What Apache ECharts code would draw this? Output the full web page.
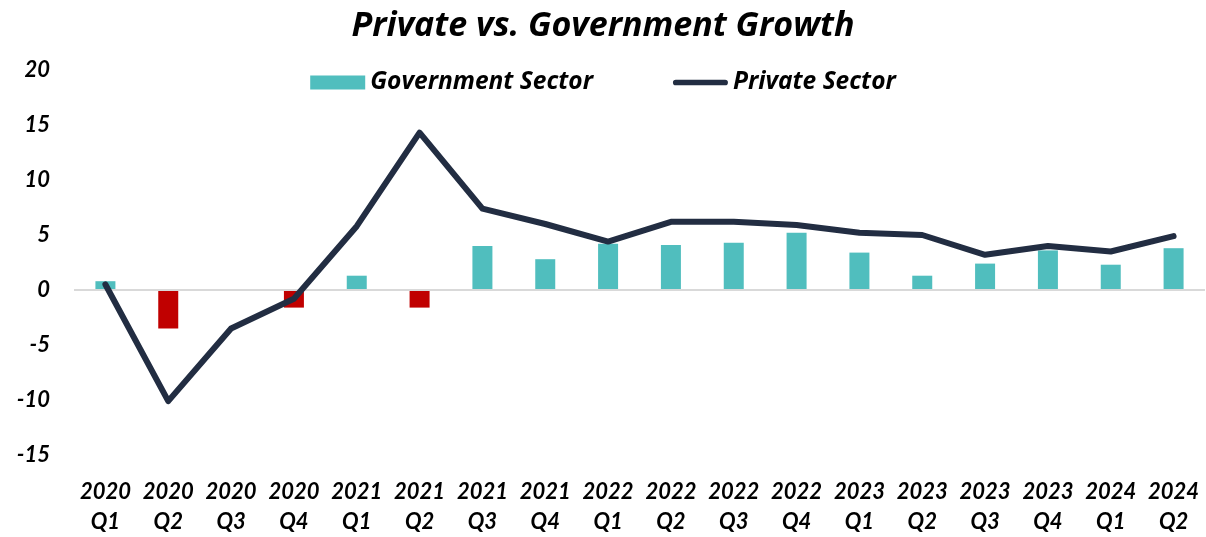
<!DOCTYPE html>
<html>
<head>
<meta charset="utf-8">
<script src="https://cdn.jsdelivr.net/npm/echarts@6/dist/echarts.min.js"></script>
<style>
  html, body { margin: 0; padding: 0; background: #fff; }
  #chart { width: 1206px; height: 537px; }
</style>
</head>
<body>
<div id="chart"></div>
<script>
const quarters = [
  '2020\nQ1', '2020\nQ2', '2020\nQ3', '2020\nQ4',
  '2021\nQ1', '2021\nQ2', '2021\nQ3', '2021\nQ4',
  '2022\nQ1', '2022\nQ2', '2022\nQ3', '2022\nQ4',
  '2023\nQ1', '2023\nQ2', '2023\nQ3', '2023\nQ4',
  '2024\nQ1', '2024\nQ2',
];
const government = [0.8, -3.5, 0, -1.6, 1.3, -1.6, 4.0, 2.8, 4.2, 4.1, 4.3, 5.2, 3.4, 1.3, 2.4, 3.6, 2.3, 3.8];
const privateSector = [0.5, -10.1, -3.5, -0.8, 5.8, 14.3, 7.4, 6.0, 4.4, 6.2, 6.2, 5.9, 5.2, 5.0, 3.2, 4.0, 3.5, 4.9];

const TEAL = '#50bebe';
const RED = '#c00000';
const NAVY = '#222d42';
const AXIS_FONT = 'Lato';
const TITLE_FONT = 'Open Sans';

const chart = echarts.init(document.getElementById('chart'));

// negative government values drawn in red
const govData = government.map((v) => (v < 0 ? { value: v, itemStyle: { color: RED } } : v));

// thin rounded bar for the line legend, with empty points so it keeps its height
const lineIcon = 'path://M0,0 L0.01,0 Z M3,4 L55,4 A3,3 0 0 1 55,10 L3,10 A3,3 0 0 1 3,4 Z M0,14 L0.01,14 Z';

const option = {
  animation: false,
  title: {
    text: 'Private vs. Government Growth',
    left: 'center',
    top: 4,
    textStyle: {
      fontFamily: TITLE_FONT,
      fontSize: 34,
      fontWeight: 'bold',
      fontStyle: 'italic',
      color: '#000',
    },
  },
  legend: {
    top: 65,
    left: 'center',
    itemGap: 80,
    itemWidth: 55,
    itemHeight: 14,
    textStyle: {
      fontFamily: TITLE_FONT,
      fontSize: 24.5,
      fontWeight: 'bold',
      fontStyle: 'italic',
      color: '#000',
    },
    data: [
      { name: 'Government Sector', icon: 'rect' },
      { name: 'Private Sector', icon: lineIcon, itemStyle: { color: NAVY } },
    ],
  },
  grid: {
    left: 74,
    right: 1,
    top: 70,
    bottom: 79,
  },
  xAxis: {
    type: 'category',
    data: quarters,
    axisLine: { show: false },
    axisTick: { show: false },
    axisLabel: {
      interval: 0,
      margin: 22,
      lineHeight: 30,
      fontFamily: AXIS_FONT,
      fontSize: 22,
      fontWeight: 'bold',
      fontStyle: 'italic',
      color: '#000',
    },
  },
  yAxis: {
    type: 'value',
    min: -15,
    max: 20,
    interval: 5,
    splitLine: { show: false },
    axisLine: { show: false },
    axisTick: { show: false },
    axisLabel: {
      margin: 24,
      fontFamily: AXIS_FONT,
      fontSize: 22,
      fontWeight: 'bold',
      fontStyle: 'italic',
      color: '#000',
    },
  },
  series: [
    {
      name: 'Government Sector',
      type: 'bar',
      barWidth: 20,
      itemStyle: { color: TEAL },
      data: govData,
      markLine: {
        silent: true,
        symbol: 'none',
        label: { show: false },
        lineStyle: { color: '#d9d9d9', width: 2, type: 'solid' },
        data: [{ yAxis: 0 }],
      },
    },
    {
      name: 'Private Sector',
      type: 'line',
      symbol: 'none',
      data: privateSector,
      lineStyle: { color: NAVY, width: 6, cap: 'round', join: 'round' },
      itemStyle: { color: NAVY },
      z: 5,
    },
  ],
};

option && chart.setOption(option);
</script>
</body>
</html>
